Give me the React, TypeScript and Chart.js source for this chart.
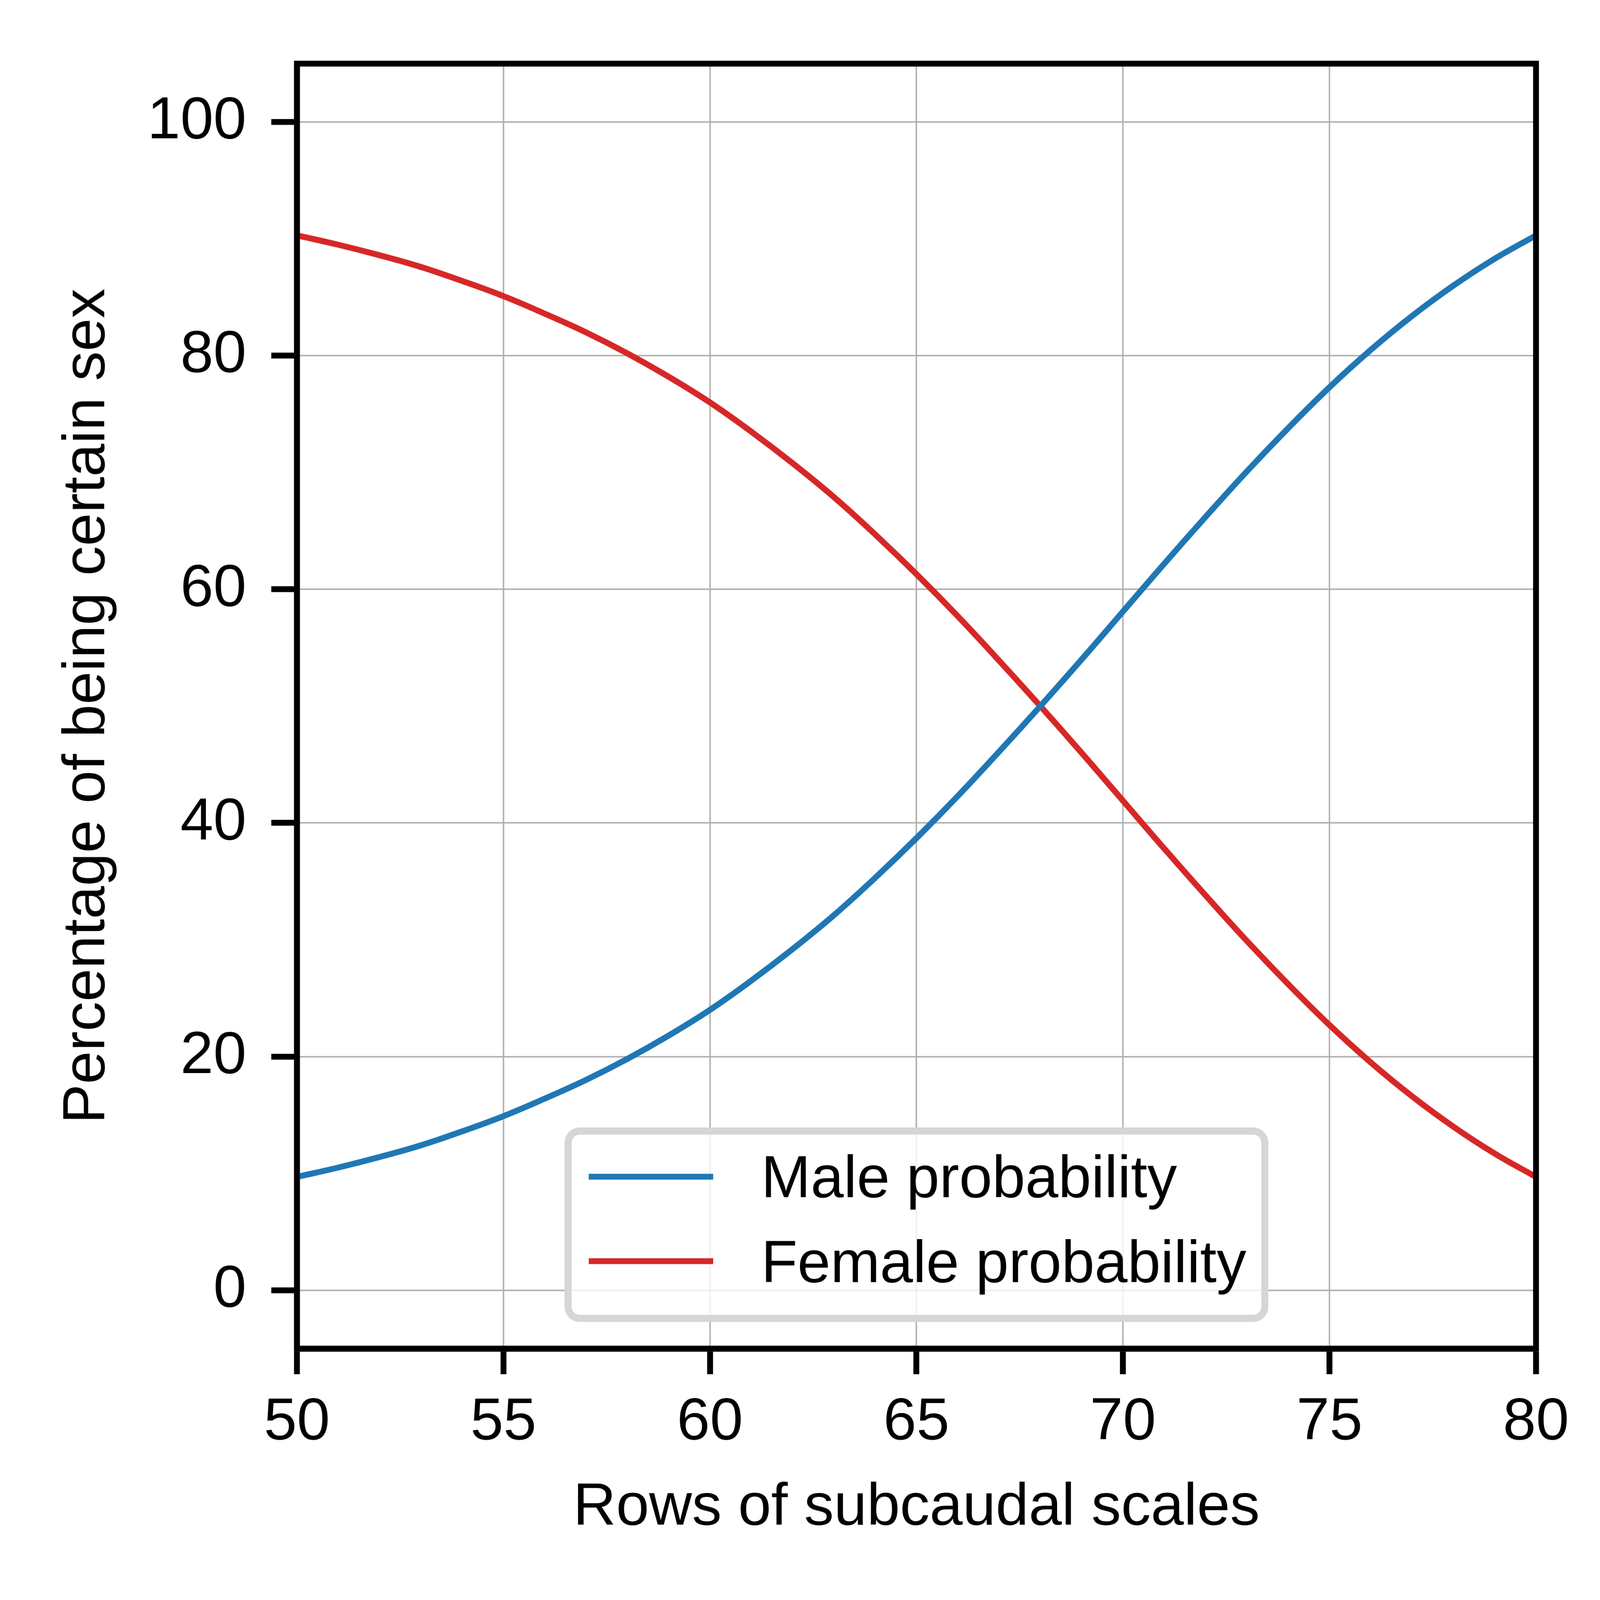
import React, { useEffect, useRef } from "react";
import { Chart, registerables } from "chart.js";

Chart.register(...registerables);

// ---- data ----
const rows = [
  50, 51, 52, 53, 54, 55, 56, 57, 58, 59, 60, 61, 62, 63, 64, 65,
  66, 67, 68, 69, 70, 71, 72, 73, 74, 75, 76, 77, 78, 79, 80,
];
const maleProbability = [
  9.7, 10.5, 11.4, 12.4, 13.6, 14.9, 16.4, 18.0, 19.8, 21.8, 24.0, 26.5, 29.2, 32.1, 35.3, 38.7,
  42.3, 46.1, 50.0, 54.0, 58.1, 62.2, 66.2, 70.1, 73.8, 77.3, 80.5, 83.4, 86.0, 88.3, 90.3,
];
const femaleProbability = [
  90.3, 89.5, 88.6, 87.6, 86.4, 85.1, 83.6, 82.0, 80.2, 78.2, 76.0, 73.5, 70.8, 67.9, 64.7, 61.3,
  57.7, 53.9, 50.0, 46.0, 41.9, 37.8, 33.8, 29.9, 26.2, 22.7, 19.5, 16.6, 14.0, 11.7, 9.7,
];
const seriesLabels = ["Male probability", "Female probability"];
const seriesColors = ["#1f77b4", "#d62728"];
const xTicks = [50, 55, 60, 65, 70, 75, 80];
const yTicks = [0, 20, 40, 60, 80, 100];
const xTitle = "Rows of subcaudal scales";
const yTitle = "Percentage of being certain sex";

// ---- styling (drawing coordinates are in a 4500 x 4500 space) ----
const W = 4500;
const H = 4500;
const FAMILY = "'Liberation Sans', Arial, Helvetica, sans-serif";
const FS = 167;
const SPINE = 16.5;
const TICK_LEN = 72;
const LINE_W = 16.7;

const framePlugin = {
  id: "frame",
  afterDatasetsDraw(chart: any) {
    const { ctx, chartArea: a } = chart;
    ctx.save();
    ctx.strokeStyle = "#000";
    ctx.lineWidth = SPINE;
    ctx.lineJoin = "miter";
    ctx.strokeRect(a.left, a.top, a.right - a.left, a.bottom - a.top);
    ctx.restore();
  },
};

function roundRectPath(ctx: CanvasRenderingContext2D, x: number, y: number, w: number, h: number, r: number) {
  ctx.beginPath();
  ctx.moveTo(x + r, y);
  ctx.lineTo(x + w - r, y);
  ctx.arcTo(x + w, y, x + w, y + r, r);
  ctx.lineTo(x + w, y + h - r);
  ctx.arcTo(x + w, y + h, x + w - r, y + h, r);
  ctx.lineTo(x + r, y + h);
  ctx.arcTo(x, y + h, x, y + h - r, r);
  ctx.lineTo(x, y + r);
  ctx.arcTo(x, y, x + r, y, r);
  ctx.closePath();
}

const legendPlugin = {
  id: "mplLegend",
  afterDraw(chart: any) {
    const { ctx, chartArea: a } = chart;
    const ds = chart.data.datasets;
    ctx.save();
    ctx.font = `${FS}px ${FAMILY}`;
    const textW = Math.max(...ds.map((d: any) => ctx.measureText(d.label).width));
    const padL = 68;
    const handleLen = 350;
    const handleGap = 135;
    const padR = 62;
    const outerW = padL + handleLen + handleGap + textW + padR;
    const outerH = 547;
    const bw = 20;
    const cx = (a.left + a.right) / 2;
    const outerLeft = cx - outerW / 2;
    const outerTop = a.bottom - 75 - outerH;

    roundRectPath(ctx, outerLeft + bw / 2, outerTop + bw / 2, outerW - bw, outerH - bw, 33);
    ctx.fillStyle = "rgba(255,255,255,0.8)";
    ctx.fill();
    ctx.lineWidth = bw;
    ctx.strokeStyle = "#d6d6d6";
    ctx.stroke();

    const lineYs = [138.5, 376];
    const baseYs = [196, 435];
    ds.forEach((d: any, i: number) => {
      ctx.beginPath();
      ctx.lineCap = "butt";
      ctx.strokeStyle = d.borderColor;
      ctx.lineWidth = LINE_W;
      ctx.moveTo(outerLeft + padL, outerTop + lineYs[i]);
      ctx.lineTo(outerLeft + padL + handleLen, outerTop + lineYs[i]);
      ctx.stroke();
      ctx.fillStyle = "#000";
      ctx.textAlign = "left";
      ctx.textBaseline = "alphabetic";
      ctx.fillText(d.label, outerLeft + padL + handleLen + handleGap, outerTop + baseYs[i]);
    });
    ctx.restore();
  },
};

function viewportSize() {
  if (typeof window === "undefined") return W;
  const v = Math.min(window.innerWidth || W, window.innerHeight || H);
  return Math.min(W, v);
}

export default function App() {
  const canvasRef = useRef<HTMLCanvasElement | null>(null);
  const css = viewportSize();

  useEffect(() => {
    const canvas = canvasRef.current;
    if (!canvas) return;
    const font = { family: FAMILY, size: FS, lineHeight: 1.2 };
    const chart = new Chart(canvas, {
      type: "line",
      data: {
        datasets: [
          {
            label: seriesLabels[0],
            data: rows.map((x, i) => ({ x, y: maleProbability[i] })),
            borderColor: seriesColors[0],
            backgroundColor: seriesColors[0],
            borderWidth: LINE_W,
            pointRadius: 0,
            tension: 0.4,
            fill: false,
          },
          {
            label: seriesLabels[1],
            data: rows.map((x, i) => ({ x, y: femaleProbability[i] })),
            borderColor: seriesColors[1],
            backgroundColor: seriesColors[1],
            borderWidth: LINE_W,
            pointRadius: 0,
            tension: 0.4,
            fill: false,
          },
        ],
      },
      options: {
        animation: false,
        responsive: false,
        devicePixelRatio: 1,
        events: [],
        layout: { padding: { top: 179, right: 180, left: 0, bottom: 0 } },
        plugins: {
          legend: { display: false },
          tooltip: { enabled: false },
        },
        scales: {
          x: {
            type: "linear",
            min: 50,
            max: 80,
            afterBuildTicks: (s: any) => {
              s.ticks = xTicks.map((v) => ({ value: v }));
            },
            afterFit: (s: any) => {
              s.height = H - 3793;
            },
            grid: {
              color: "#b0b0b0",
              lineWidth: 4.2,
              drawTicks: true,
              tickColor: "#000",
              tickWidth: SPINE,
              tickLength: TICK_LEN,
            },
            border: { display: true, color: "#000", width: SPINE },
            ticks: {
              color: "#000",
              font,
              padding: 37,
              maxRotation: 0,
              autoSkip: false,
            },
            title: {
              display: true,
              text: xTitle,
              color: "#000",
              font,
              padding: { top: 0, bottom: 158 },
            },
          },
          y: {
            type: "linear",
            min: -5,
            max: 105,
            afterBuildTicks: (s: any) => {
              s.ticks = yTicks.map((v) => ({ value: v }));
            },
            afterFit: (s: any) => {
              s.width = 835;
            },
            grid: {
              color: "#b0b0b0",
              lineWidth: 4.2,
              drawTicks: true,
              tickColor: "#000",
              tickWidth: SPINE,
              tickLength: TICK_LEN,
            },
            border: { display: true, color: "#000", width: SPINE },
            ticks: {
              color: "#000",
              font,
              padding: 70,
              autoSkip: false,
            },
            title: {
              display: true,
              text: yTitle,
              color: "#000",
              font,
              padding: { top: 147, bottom: 0 },
            },
          },
        },
      },
      plugins: [framePlugin, legendPlugin],
    } as any);
    return () => chart.destroy();
  }, []);

  return (
    <div
      style={{
        position: "absolute",
        left: 0,
        top: 0,
        width: css,
        height: css,
        background: "#fff",
        overflow: "hidden",
      }}
    >
      <canvas
        ref={canvasRef}
        width={W}
        height={H}
        style={{ width: `${css}px`, height: `${css}px`, display: "block" }}
      />
    </div>
  );
}
